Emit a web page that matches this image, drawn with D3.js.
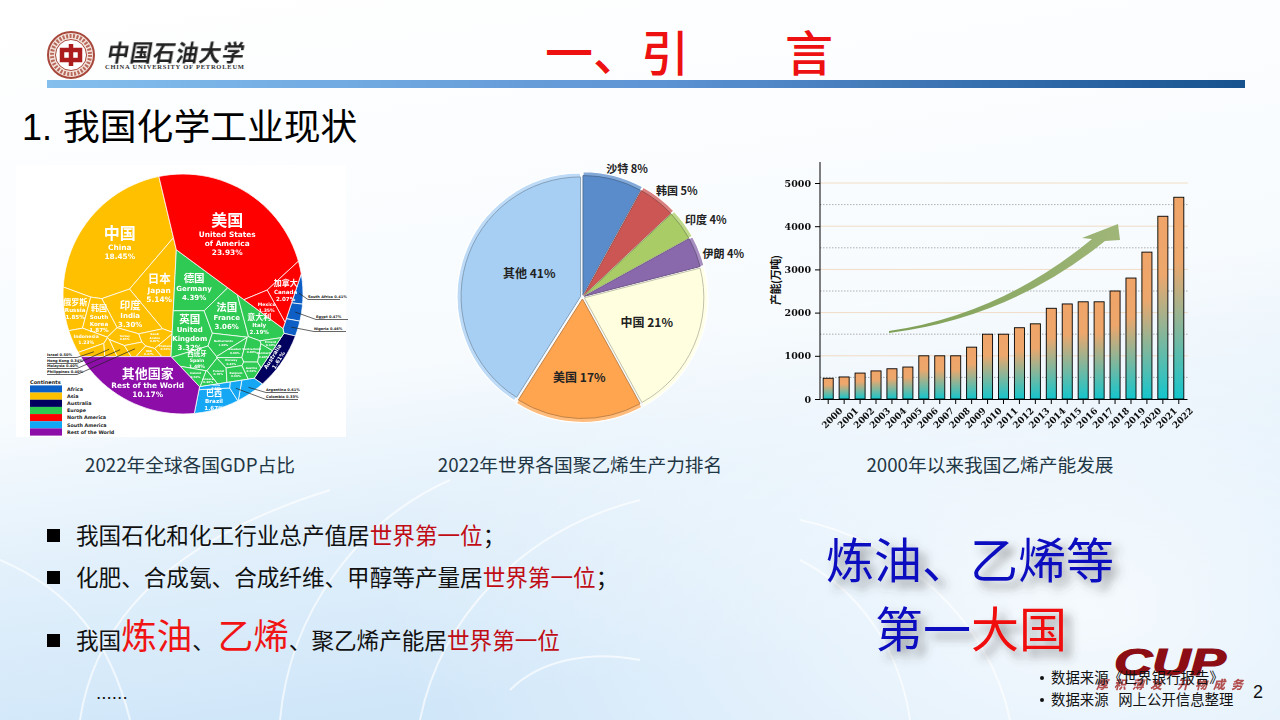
<!DOCTYPE html>
<html>
<head>
<meta charset="utf-8">
<script src="https://cdn.jsdelivr.net/npm/d3@7"></script>
<style>
  html, body { margin: 0; padding: 0; background: #fff; }
  svg { display: block; }
  text { font-family: "Noto Sans CJK SC", "Liberation Sans", sans-serif; }
</style>
</head>
<body>
<svg id="slide" width="1280" height="720"></svg>
<script>
// ---- chart data ----
const capacityYears = ["2000","2001","2002","2003","2004","2005","2006","2007","2008","2009","2010","2011","2012","2013","2014","2015","2016","2017","2018","2019","2020","2021","2022"];
const capacityValues = [480,510,600,650,700,740,1000,1000,1000,1200,1500,1500,1650,1740,2100,2200,2250,2250,2500,2800,3400,4230,4670];
const capacityTicks = [0,1000,2000,3000,4000,5000];
const capacityMinorTicks = [500,1500,2500,3500,4500];

const pieNames = ["沙特","韩国","印度","伊朗","中国","美国","其他"];
const pieShares = [8,5,4,4,21,17,41];
const pieColors = ["#5a8ccb","#cb5654","#a9cc66","#8a68ac","#ffffdf","#ffa550","#a7cff4"];

const continentNames = ["Africa","Asia","Australia","Europe","North America","South America","Rest of the World"];
const continentColors = ["#0b5fc6","#ffc000","#00005e","#2fca52","#ff0000","#12a7f4","#8c0da8"];

const gdpCountries = ["China","Japan","India","Russia","South|Korea","Indonesia","Turkey","Saudi|Arabia","UAE","Thailand","Israel","Hong Kong","Malaysia","Philippines",
  "United States|of America","Canada","Mexico",
  "Germany","United|Kingdom","France","Italy","Netherlands","Spain","Sweden","Switzerland","Norway","Poland","Belgium","Austria","Denmark","Ireland","Finland","Greece",
  "Brazil","Argentina","Colombia","Chile","Australia",
  "South Africa","Egypt","Nigeria","Rest of the World"];
const gdpChinese = ["中国","日本","印度","俄罗斯","韩国","","","","","","","","","",
  "美国","加拿大","",
  "德国","英国","法国","意大利","","西班牙","","","","","","","","","","",
  "巴西","","","","",
  "","","","其他国家"];
const gdpShares = [18.45,5.14,3.30,1.85,1.87,1.23,0.85,0.87,0.37,0.50,0.50,0.34,0.40,0.40,
  23.93,2.07,1.35,
  4.39,3.32,3.06,2.19,1.06,1.48,0.60,0.80,0.45,0.70,0.60,0.50,0.40,0.50,0.30,0.30,
  1.67,0.61,0.33,0.30,1.61,
  0.41,0.47,0.46,10.17];
const gdpContinents = ["Asia","Asia","Asia","Asia","Asia","Asia","Asia","Asia","Asia","Asia","Asia","Asia","Asia","Asia",
  "North America","North America","North America",
  "Europe","Europe","Europe","Europe","Europe","Europe","Europe","Europe","Europe","Europe","Europe","Europe","Europe","Europe","Europe","Europe",
  "South America","South America","South America","South America","Australia",
  "Africa","Africa","Africa","Rest of the World"];

// ---- layout only: start points for the voronoi cells, areas come from the shares ----
const continentSeeds = {"Asia":[110,270],"North America":[261,234],"Europe":[230,276],"Rest of the World":[110,390],"South America":[252,418],"Australia":[313,331],"Africa":[330,257]};
const countrySeeds = {"China":[110,215],"Japan":[165,262],"India":[135,287],"Russia":[78,302],"South|Korea":[97,307],"Indonesia":[85,340],"Turkey":[122,333],"Saudi|Arabia":[143,325],"UAE":[135,353],"Thailand":[153,337],"Israel":[90,354],"Hong Kong":[105,353],"Malaysia":[116,348],"Philippines":[124,343],
  "United States|of America":[225,225],"Canada":[285,290],"Mexico":[258,305],
  "Germany":[190,275],"United|Kingdom":[190,328],"France":[228,314],"Italy":[262,305],"Netherlands":[225,340],"Spain":[200,360],"Sweden":[230,348],"Switzerland":[245,352],"Norway":[230,358],"Poland":[215,372],"Belgium":[232,371],"Austria":[245,365],"Denmark":[262,355],"Ireland":[197,377],"Finland":[268,345],"Greece":[205,380],
  "Brazil":[213,398],"Argentina":[255,385],"Colombia":[238,382],"Chile":[212,380],"Australia":[280,355],
  "South Africa":[298,287],"Egypt":[295,312],"Nigeria":[293,323],"Rest of the World":[125,385]};
const calloutSpots = {"Israel":[47,356,"0.50%"],"Hong Kong":[47,362,"0.34%"],"Malaysia":[47,367,"0.40%"],"Philippines":[47,373,"0.40%"],"South Africa":[308,298,"0.41%"],"Egypt":[316,318,"0.47%"],"Nigeria":[314,330,"0.46%"],"Argentina":[266,391,"0.61%"],"Colombia":[266,398,"0.33%"]};

const svg = d3.select("#slide");
const defs = svg.append("defs");

function linearGrad(id, stops, x2, y2) {
    const g = defs.append("linearGradient").attr("id", id).attr("x1", 0).attr("y1", 0).attr("x2", x2).attr("y2", y2);
    stops.forEach(s => g.append("stop").attr("offset", s[0]).attr("stop-color", s[1]));
}
linearGrad("pageBg", [[0,"#ffffff"],[0.55,"#f7fbfe"],[0.75,"#e2f0fb"],[1,"#cfe6f9"]], 0.25, 1);
linearGrad("headerBar", [[0,"#84bfee"],[0.5,"#5f95d4"],[1,"#17528f"]], 1, 0);
linearGrad("barFill", [[0,"#f0a468"],[0.32,"#eda76c"],[1,"#14c6cd"]], 0, 1);
linearGrad("arrowFill", [[0,"#7d9f55"],[1,"#9fb678"]], 1, 0);
const fade = defs.append("radialGradient").attr("id", "rightFade").attr("cx", 0.85).attr("cy", 0.85).attr("r", 0.55);
fade.append("stop").attr("offset", 0).attr("stop-color", "#fff").attr("stop-opacity", 0.8);
fade.append("stop").attr("offset", 1).attr("stop-color", "#fff").attr("stop-opacity", 0);
defs.append("filter").attr("id", "soft").append("feGaussianBlur").attr("stdDeviation", 0.3);
defs.append("filter").attr("id", "softer").append("feGaussianBlur").attr("stdDeviation", 0.6);
const shadow = defs.append("filter").attr("id", "bigShadow").attr("x", "-20%").attr("y", "-30%").attr("width", "150%").attr("height", "170%");
shadow.append("feDropShadow").attr("dx", 7).attr("dy", 7).attr("stdDeviation", 5).attr("flood-color", "#444").attr("flood-opacity", 0.55);

// ---- background ----
svg.append("rect").attr("width", 1280).attr("height", 720).attr("fill", "url(#pageBg)");
svg.append("rect").attr("width", 1280).attr("height", 720).attr("fill", "url(#rightFade)");
const swooshes = ["M0,560 C70,590 110,640 130,720","M80,720 C95,620 170,540 330,490","M280,720 C290,610 360,520 450,480","M420,720 C440,620 520,530 640,500","M510,690 C540,660 590,650 640,660","M800,560 C860,590 900,650 910,720","M800,520 C900,540 990,620 1010,720"];
svg.append("g").selectAll("path").data(swooshes).join("path")
    .attr("d", d => d).attr("fill", "none").attr("stroke", "#fff").attr("stroke-width", 2).attr("opacity", 0.65);

// ---- header ----
const logo = svg.append("g").attr("filter", "url(#soft)");
logo.append("circle").attr("cx", 71).attr("cy", 55).attr("r", 23).attr("fill", "#f3e4dc").attr("stroke", "#a8493c").attr("stroke-width", 2);
logo.append("circle").attr("cx", 71).attr("cy", 55).attr("r", 19).attr("fill", "none").attr("stroke", "#b9695c").attr("stroke-width", 4).attr("stroke-dasharray", "2 1.5");
logo.append("circle").attr("cx", 71).attr("cy", 55).attr("r", 15.5).attr("fill", "#fff").attr("stroke", "#a8493c").attr("stroke-width", 1);
logo.append("path").attr("d", "M62,50 h18 v10 h-18 Z M71,44 v22").attr("fill", "none").attr("stroke", "#ad1f1c").attr("stroke-width", 4.5);
svg.append("text").attr("transform", "translate(106,61) skewX(-10)").attr("font-size", 22).attr("font-weight", 700)
    .attr("textLength", 137).attr("fill", "#222").attr("filter", "url(#soft)").text("中国石油大学");
svg.append("text").attr("x", 105).attr("y", 69).attr("font-size", 6.5).attr("font-weight", 700)
    .style("font-family", "'Liberation Serif', serif").attr("textLength", 139).attr("fill", "#333").text("CHINA UNIVERSITY OF PETROLEUM");
svg.append("rect").attr("x", 47).attr("y", 80).attr("width", 1198).attr("height", 8).attr("fill", "url(#headerBar)");

svg.append("text").attr("x", 545).attr("y", 71).attr("font-size", 48).attr("font-weight", 500).attr("fill", "#ee1111").text("一、引");
svg.append("text").attr("x", 785).attr("y", 71).attr("font-size", 48).attr("font-weight", 500).attr("fill", "#ee1111").text("言");
svg.append("text").attr("x", 22).attr("y", 140).attr("font-size", 36).style("font-family", "'Liberation Sans', sans-serif").attr("fill", "#000").text("1.");
svg.append("text").attr("x", 63).attr("y", 140).attr("font-size", 36.8).attr("fill", "#000").text("我国化学工业现状");

// ---- left: GDP voronoi treemap ----
svg.append("rect").attr("x", 16).attr("y", 165).attr("width", 330).attr("height", 272).attr("fill", "#fff");

const disc = {x: 183, y: 294, r: 120};
const discPolygon = d3.range(120).map(i => {
    const a = i / 120 * 2 * Math.PI;
    return [disc.x + disc.r * Math.cos(a), disc.y + disc.r * Math.sin(a)];
});

// keep the side of the polygon where a*x + b*y <= c
function clipPolygon(poly, a, b, c) {
    const out = [];
    poly.forEach((p, i) => {
        const q = poly[(i + 1) % poly.length];
        const dp = a * p[0] + b * p[1] - c, dq = a * q[0] + b * q[1] - c;
        if (dp <= 0) out.push(p);
        if ((dp < 0 && dq > 0) || (dp > 0 && dq < 0)) {
            const t = dp / (dp - dq);
            out.push([p[0] + t * (q[0] - p[0]), p[1] + t * (q[1] - p[1])]);
        }
    });
    return out;
}

// power diagram: weights move until every cell has the area its value asks for
function voronoiCells(parent, seeds, values) {
    const total = d3.sum(values), parentArea = Math.abs(d3.polygonArea(parent));
    const targets = values.map(v => v / total * parentArea);
    const weights = seeds.map(() => 0);
    let cells = [];
    for (let it = 0; it < 900; it++) {
        cells = seeds.map((s, i) => {
            let poly = parent;
            seeds.forEach((o, j) => {
                if (j === i || poly.length === 0) return;
                const c = o[0] * o[0] + o[1] * o[1] - weights[j] - s[0] * s[0] - s[1] * s[1] + weights[i];
                poly = clipPolygon(poly, 2 * (o[0] - s[0]), 2 * (o[1] - s[1]), c);
            });
            return poly;
        });
        cells.forEach((poly, i) => {
            const area = poly.length > 2 ? Math.abs(d3.polygonArea(poly)) : 0;
            const len = Math.max(poly.length > 2 ? d3.polygonLength(poly) : 0, Math.sqrt(targets[i]));
            const near = d3.min(seeds.filter((o, j) => j !== i), o => Math.hypot(o[0] - seeds[i][0], o[1] - seeds[i][1])) || 1;
            weights[i] += 0.5 * (targets[i] - area) * near / len;
        });
    }
    return cells;
}

const groupNames = continentNames.filter(n => gdpContinents.includes(n));
const groupTotals = groupNames.map(n => d3.sum(gdpShares.filter((v, i) => gdpContinents[i] === n)));
const groupCells = voronoiCells(discPolygon, groupNames.map(n => continentSeeds[n]), groupTotals);

const treemap = svg.append("g").attr("filter", "url(#soft)");
const cellCentre = {};
const lineGen = d3.line().curve(d3.curveLinearClosed);
groupNames.forEach((name, g) => {
    const idx = d3.range(gdpCountries.length).filter(i => gdpContinents[i] === name);
    const cells = voronoiCells(groupCells[g], idx.map(i => countrySeeds[gdpCountries[i]]), idx.map(i => gdpShares[i]));
    idx.forEach((i, k) => {
        if (cells[k].length < 3) return;
        cellCentre[gdpCountries[i]] = d3.polygonCentroid(cells[k]);
        treemap.append("path").attr("d", lineGen(cells[k]))
            .attr("fill", continentColors[continentNames.indexOf(name)])
            .attr("stroke", "#fff").attr("stroke-width", 0.9).attr("stroke-opacity", 0.85);
    });
});

// labels sit on the cell centroids
function labelSizes(v) {
    if (v >= 15) return [7.4, 16];
    if (v >= 10) return [7.4, 13];
    if (v >= 5) return [7.4, 11.5];
    if (v >= 3) return [7, 10.5];
    if (v >= 1.6) return [5.6, 8];
    if (v >= 1.2) return [4.6, 6.5];
    return [2.8, 0];
}
const calloutNames = Object.keys(calloutSpots);
gdpCountries.forEach((name, i) => {
    const c = cellCentre[name];
    if (!c || calloutNames.includes(name)) return;
    const v = gdpShares[i];
    const sizes = labelSizes(v);
    const lines = [];
    if (gdpChinese[i]) lines.push([gdpChinese[i], sizes[1] || 4]);
    name.split("|").forEach(t => lines.push([t, sizes[0]]));
    lines.push([v.toFixed(2) + "%", sizes[0]]);
    const height = d3.sum(lines, l => l[1] * 1.22);
    const label = treemap.append("g");
    if (name === "Australia") label.attr("transform", "rotate(-58 " + c[0] + " " + c[1] + ")");
    let y = c[1] - height / 2;
    lines.forEach(l => {
        y += l[1] * 1.22;
        label.append("text").attr("x", c[0]).attr("y", y - l[1] * 0.22)
            .attr("text-anchor", "middle").attr("font-size", l[1]).attr("font-weight", 700)
            .attr("fill", "#fff").style("font-family", "'DejaVu Sans', 'Noto Sans CJK SC', sans-serif").text(l[0]);
    });
});

// callouts for the smallest cells
calloutNames.forEach(name => {
    const c = cellCentre[name], spot = calloutSpots[name];
    if (!c) return;
    const right = spot[0] + 30;
    const elbow = spot[0] < 100 ? right : spot[0];
    svg.append("path").attr("d", d3.line()([c, [elbow, spot[1] + 1.5], [spot[0] < 100 ? spot[0] : right + 2, spot[1] + 1.5]]))
        .attr("fill", "none").attr("stroke", "#222").attr("stroke-width", 0.7);
    svg.append("text").attr("x", spot[0]).attr("y", spot[1]).attr("font-size", 3.6).attr("font-weight", 700)
        .attr("fill", "#222").style("font-family", "'DejaVu Sans', sans-serif").text(name + " " + spot[2]);
});

// legend
const legendY = d3.scalePoint().domain(continentNames).range([389, 432]);
svg.append("text").attr("x", 30).attr("y", 384).attr("font-size", 5).attr("font-weight", 700).attr("fill", "#222")
    .style("font-family", "'DejaVu Sans', sans-serif").text("Continents");
const legend = svg.append("g").selectAll("g").data(continentNames).join("g");
legend.append("rect").attr("x", 30).attr("width", 32).attr("y", d => legendY(d) - 3.6).attr("height", 7.2)
    .attr("fill", (d, i) => continentColors[i]);
legend.append("text").attr("x", 67).attr("y", d => legendY(d) + 1.8).attr("font-size", 4.8).attr("font-weight", 700)
    .attr("fill", "#222").style("font-family", "'DejaVu Sans', sans-serif").text(d => d);

// ---- middle: polyethylene pie ----
const pieR = 123.5;
const pieCentre = [582.5, 297];
const pieArcs = d3.pie().sort(null)(pieShares);
const arcFull = d3.arc().innerRadius(0).outerRadius(pieR);
const arcInner = d3.arc().innerRadius(0).outerRadius(pieR - 4);
const arcLabel = d3.arc().innerRadius(128).outerRadius(128);
const arcInside = d3.arc().innerRadius(70).outerRadius(70);
const pieLabelNudge = [[-8,-3],[-5,-4],[-1,-1],[1,5],[0,-1],[-1,12],[14,-3]];
const pieG = svg.append("g").attr("transform", "translate(" + pieCentre + ")");
const slices = pieG.selectAll("g").data(pieArcs).join("g").attr("transform", d => {
    const mid = (d.startAngle + d.endAngle) / 2;
    return "translate(" + (2 * Math.sin(mid)) + "," + (-2 * Math.cos(mid)) + ")";
});
slices.append("path").attr("d", arcFull)
    .attr("fill", (d, i) => d3.interpolateRgb(pieColors[i], "#fff")(0.25))
    .attr("stroke", "#fff").attr("stroke-width", 1.2);
slices.append("path").attr("d", arcInner)
    .attr("fill", (d, i) => pieColors[i])
    .attr("stroke", (d, i) => d3.interpolateRgb(pieColors[i], "#333")(0.3)).attr("stroke-width", 1);
pieG.selectAll("text").data(pieArcs).join("text")
    .attr("transform", (d, i) => {
        const p = (i < 4 ? arcLabel : arcInside).centroid(d);
        return "translate(" + (p[0] + pieLabelNudge[i][0]) + "," + (p[1] + pieLabelNudge[i][1]) + ")";
    })
    .attr("text-anchor", (d, i) => i < 4 ? "start" : "middle")
    .attr("dominant-baseline", "middle")
    .attr("font-size", (d, i) => i < 4 ? 11 : 12).attr("font-weight", 700).attr("fill", "#222")
    .text((d, i) => pieNames[i] + " " + pieShares[i] + "%");

// ---- right: ethylene capacity bars ----
const x = d3.scaleBand().domain(capacityYears).range([820, 1187]).paddingInner(0.37).paddingOuter(0.2);
const y = d3.scaleLinear().domain([0, 5000]).range([399, 183]);
const chart = svg.append("g").attr("filter", "url(#soft)");
chart.append("g").selectAll("line").data(capacityTicks.slice(1)).join("line")
    .attr("x1", 820).attr("x2", 1188).attr("y1", y).attr("y2", y).attr("stroke", "#f1dcc6").attr("stroke-width", 1);
chart.append("g").selectAll("line").data(capacityMinorTicks).join("line")
    .attr("x1", 820).attr("x2", 1188).attr("y1", y).attr("y2", y).attr("stroke", "#9c9c9c").attr("stroke-width", 0.8).attr("stroke-dasharray", "1.5 1.5");

chart.append("g").selectAll("rect").data(capacityValues).join("rect")
    .attr("x", (d, i) => x(capacityYears[i])).attr("width", x.bandwidth())
    .attr("y", d => y(d)).attr("height", d => y(0) - y(d))
    .attr("fill", "url(#barFill)").attr("stroke", "#000").attr("stroke-width", 0.9);

const yAxis = d3.axisLeft(y).tickValues(capacityTicks).tickFormat(d3.format("d")).tickSize(5).tickSizeOuter(0).tickPadding(4);
const yG = chart.append("g").attr("transform", "translate(820,0)").call(yAxis);
yG.select(".domain").remove();
chart.append("line").attr("x1", 820).attr("x2", 820).attr("y1", 162).attr("y2", 399).attr("stroke", "#000");
yG.selectAll("text").attr("font-size", 9.5).attr("font-weight", 700).style("font-family", "'DejaVu Serif', serif").attr("fill", "#111");

const xAxis = d3.axisBottom(x).tickSize(5).tickSizeOuter(0);
const xG = chart.append("g").attr("transform", "translate(0,399)").call(xAxis);
xG.selectAll("text").attr("font-size", 9).attr("font-weight", 700).style("font-family", "'DejaVu Serif', serif").attr("fill", "#111")
    .attr("text-anchor", "end").attr("dx", "0.2em").attr("dy", "1.25em").attr("transform", "rotate(-45)");

svg.append("text").attr("transform", "translate(780,305) rotate(-90)").attr("font-size", 11).attr("font-weight", 700)
    .attr("textLength", 50).attr("fill", "#111").text("产能(万吨)");

svg.append("path").attr("d", "M889,331 Q1000,315 1092,239 L1082,238 L1118,224 L1120,240 L1105,241 Q1010,318 889,333 Z")
    .attr("fill", "url(#arrowFill)").attr("filter", "url(#softer)");

// ---- captions ----
const captions = [["2022年全球各国GDP占比", 190], ["2022年世界各国聚乙烯生产力排名", 580], ["2000年以来我国乙烯产能发展", 990]];
svg.append("g").selectAll("text").data(captions).join("text")
    .attr("x", d => d[1]).attr("y", 472).attr("text-anchor", "middle").attr("font-size", 18.7).attr("fill", "#1f3644").text(d => d[0]);

// ---- bullet points ----
const darkRed = "#c00c14", brightRed = "#f01414";
const bulletLines = [
    [544, [["我国石化和化工行业总产值居", "#111", 22.6], ["世界第一位", darkRed, 22.6], ["；", "#111", 22.6]]],
    [586, [["化肥、合成氨、合成纤维、甲醇等产量居", "#111", 22.6], ["世界第一位", darkRed, 22.6], ["；", "#111", 22.6]]],
    [649, [["我国", "#111", 22.6], ["炼油", brightRed, 35.5], ["、", "#111", 22.6], ["乙烯", brightRed, 35.5, 3], ["、聚乙烯产能居", "#111", 22.6], ["世界第一位", darkRed, 22.6]]]
];
bulletLines.forEach(line => {
    svg.append("rect").attr("x", 47).attr("y", line[0] - 15).attr("width", 13).attr("height", 13).attr("fill", "#000");
    const t = svg.append("text").attr("x", 76).attr("y", line[0]);
    line[1].forEach(run => t.append("tspan").attr("fill", run[1]).attr("font-size", run[2]).attr("dx", run[3] || 0).text(run[0]));
});
svg.append("text").attr("x", 96).attr("y", 699).attr("font-size", 19).style("font-family", "'Liberation Sans', sans-serif").attr("fill", "#111").text("......");

// ---- big call-out ----
const bigA = svg.append("text").attr("x", 826).attr("y", 578).attr("font-size", 48).attr("filter", "url(#bigShadow)").attr("fill", "#0808c0");
bigA.text("炼油、乙烯等");
const bigB = svg.append("text").attr("x", 875).attr("y", 647).attr("font-size", 48).attr("filter", "url(#bigShadow)");
bigB.append("tspan").attr("fill", "#0808c0").text("第一");
bigB.append("tspan").attr("fill", "#f00808").text("大国");

// ---- footer ----
svg.append("text").attr("x", 1114).attr("y", 675).attr("font-size", 36).attr("font-weight", 700).attr("font-style", "italic")
    .style("font-family", "'Liberation Sans', sans-serif").attr("textLength", 112).attr("lengthAdjust", "spacingAndGlyphs")
    .attr("fill", "#8c0e14").attr("stroke", "#8c0e14").attr("stroke-width", 1.2).text("CUP");
svg.append("text").attr("x", 1096).attr("y", 689).attr("font-size", 12).attr("font-weight", 900).attr("font-style", "italic")
    .attr("textLength", 147).attr("fill", "#a83230").attr("opacity", 0.85).attr("filter", "url(#soft)").text("厚积薄发 开物成务");
const notes = [["数据来源《世界银行报告》", 683], ["数据来源   网上公开信息整理", 705]];
const noteG = svg.append("g").selectAll("g").data(notes).join("g");
noteG.append("circle").attr("cx", 1042).attr("cy", d => d[1] - 5).attr("r", 2).attr("fill", "#111");
noteG.append("text").attr("x", 1051).attr("y", d => d[1]).attr("font-size", 14.4).attr("fill", "#111").style("white-space", "pre").text(d => d[0]);
svg.append("text").attr("x", 1253).attr("y", 698).attr("font-size", 18).style("font-family", "'Liberation Sans', sans-serif").attr("fill", "#111").text("2");
</script>
</body>
</html>
